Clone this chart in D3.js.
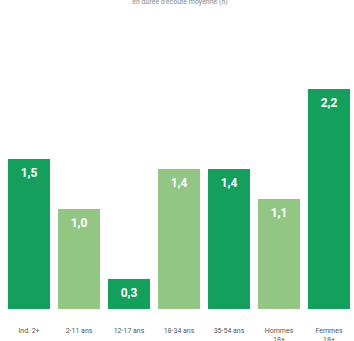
<!DOCTYPE html>
<html><head><meta charset="utf-8">
<script src="https://cdn.jsdelivr.net/npm/d3@7"></script>
<style>body{margin:0;background:#fff;} svg{display:block;} text{-webkit-font-smoothing:antialiased;}</style>
</head><body>
<svg id="c" width="354" height="341"></svg>
<script>
const categories = ["Ind. 2+", "2-11 ans", "12-17 ans", "18-34 ans", "35-54 ans", "Hommes 18+", "Femmes 18+"];
const values = [1.5, 1.0, 0.3, 1.4, 1.4, 1.1, 2.2];
const shades = ["dark", "light", "dark", "light", "dark", "light", "dark"];
const valueLabels = ["1,5", "1,0", "0,3", "1,4", "1,4", "1,1", "2,2"];
const title = "en durée d'écoute moyenne (h)";

const svg = d3.select("#c");
const x = d3.scaleBand().domain(categories).range([4, 354]).paddingInner(0.16).paddingOuter(0.08);
const y = d3.scaleLinear().domain([0, 2.2]).range([309, 89]);
const color = {dark: "#14a05c", light: "#93c683"};

svg.append("text").attr("x", 180).attr("y", 4).attr("text-anchor", "middle")
  .attr("font-family", "Roboto, sans-serif").attr("font-size", 7).attr("fill", "#888").text(title);

const g = svg.append("g");
g.selectAll("rect").data(categories).join("rect")
  .attr("x", d => x(d)).attr("width", x.bandwidth())
  .attr("y", (d, i) => y(values[i])).attr("height", (d, i) => y(0) - y(values[i]))
  .attr("fill", (d, i) => color[shades[i]]);

g.selectAll("text.v").data(categories).join("text").attr("class", "v")
  .attr("x", d => x(d) + x.bandwidth() / 2)
  .attr("y", (d, i) => y(values[i]) + 18)
  .attr("text-anchor", "middle").attr("fill", "#fff")
  .attr("font-family", "Roboto, sans-serif").attr("font-weight", "bold").attr("font-size", 12)
  .text((d, i) => valueLabels[i]);

const axis = d3.axisBottom(x).tickSize(0).tickPadding(0);
const ax = svg.append("g").attr("transform", "translate(0,328)").call(axis);
ax.select(".domain").remove();
ax.selectAll("text").attr("font-family", "Roboto, sans-serif").attr("font-size", 7).attr("fill", "#555")
  .each(function(d) {
    const t = d3.select(this);
    const parts = d.startsWith("Hommes") || d.startsWith("Femmes") ? d.split(" ") : [d];
    t.text(null);
    parts.forEach((p, k) => t.append("tspan").attr("x", 0).attr("dy", k === 0 ? "0.71em" : "1.25em").text(p));
  });
</script>
</body></html>
